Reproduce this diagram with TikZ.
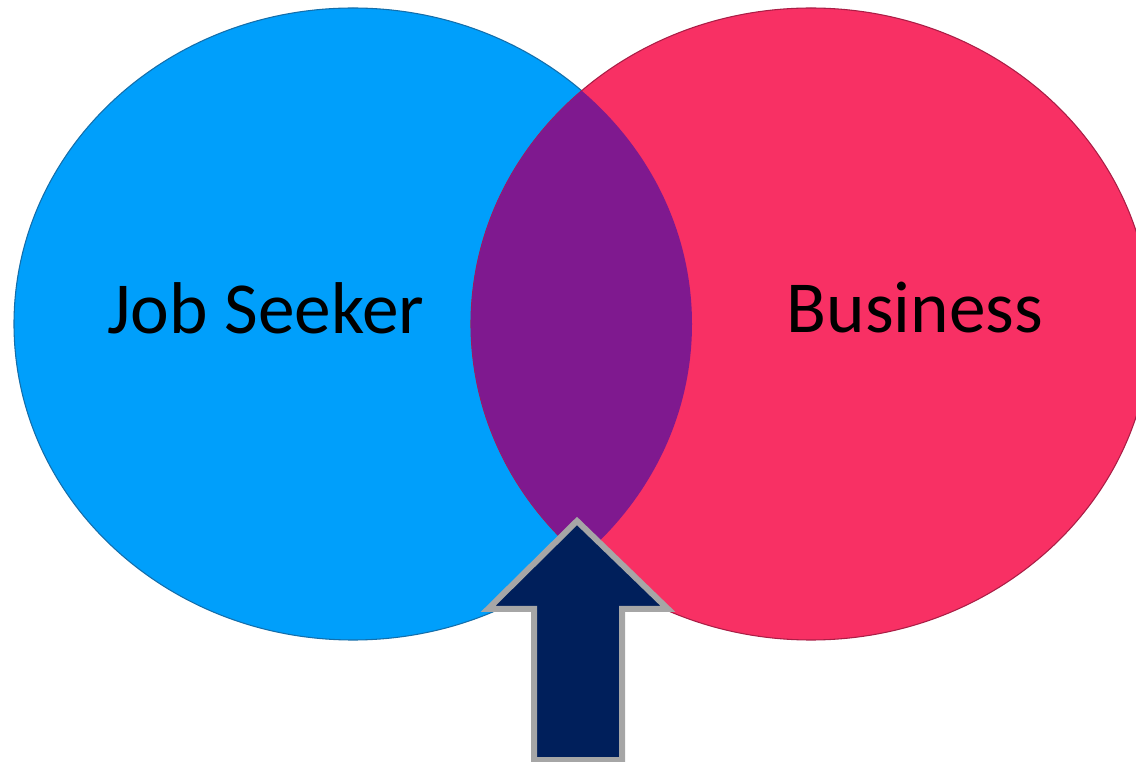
\documentclass[tikz,border=0pt]{standalone}
\usepackage{fontspec}
\setmainfont{Carlito}
\definecolor{seekerblue}{RGB}{0,159,251}
\definecolor{businesspink}{RGB}{248,48,100}
\definecolor{overlappurple}{RGB}{127,25,143}
\definecolor{arrownavy}{RGB}{0,31,91}
\definecolor{arrowgray}{RGB}{166,166,166}
\tikzset{
  circlelabel/.style={font=\fontsize{55}{66}\selectfont, text=black},
}
\begin{document}
\begin{tikzpicture}[x=0.75pt,y=0.75pt,yscale=-1,xscale=1]
\useasboundingbox (0,0) rectangle (1136,762);
\clip (0,0) rectangle (1136,762);

%Shape: Ellipse [seeker]
\draw [draw={rgb, 255:red, 20; green, 110; blue, 170 }, line width=0.8, fill=seekerblue] (353,324) ellipse (339 and 316);
%Shape: Ellipse [business]
\draw [draw={rgb, 255:red, 170; green, 30; blue, 70 }, line width=0.8, fill=businesspink] (811,324) ellipse (340 and 316);
%Shape: Ellipse overlap
\begin{scope}
\clip (353,324) ellipse (339 and 316);
\fill [overlappurple] (811,324) ellipse (340 and 316);
\end{scope}

%Shape: Up Arrow [id:pointer]
\draw [draw=arrowgray, line width=4.5, fill=arrownavy, line join=miter] (577,521) -- (668,609) -- (622,609) -- (622,760) -- (534,760) -- (534,609) -- (488,609) -- cycle ;

% Text Node
\node [circlelabel] (seeker) at (266,308) {Job Seeker};
% Text Node
\node [circlelabel] (business) at (915,308) {Business};

\end{tikzpicture}
\end{document}
